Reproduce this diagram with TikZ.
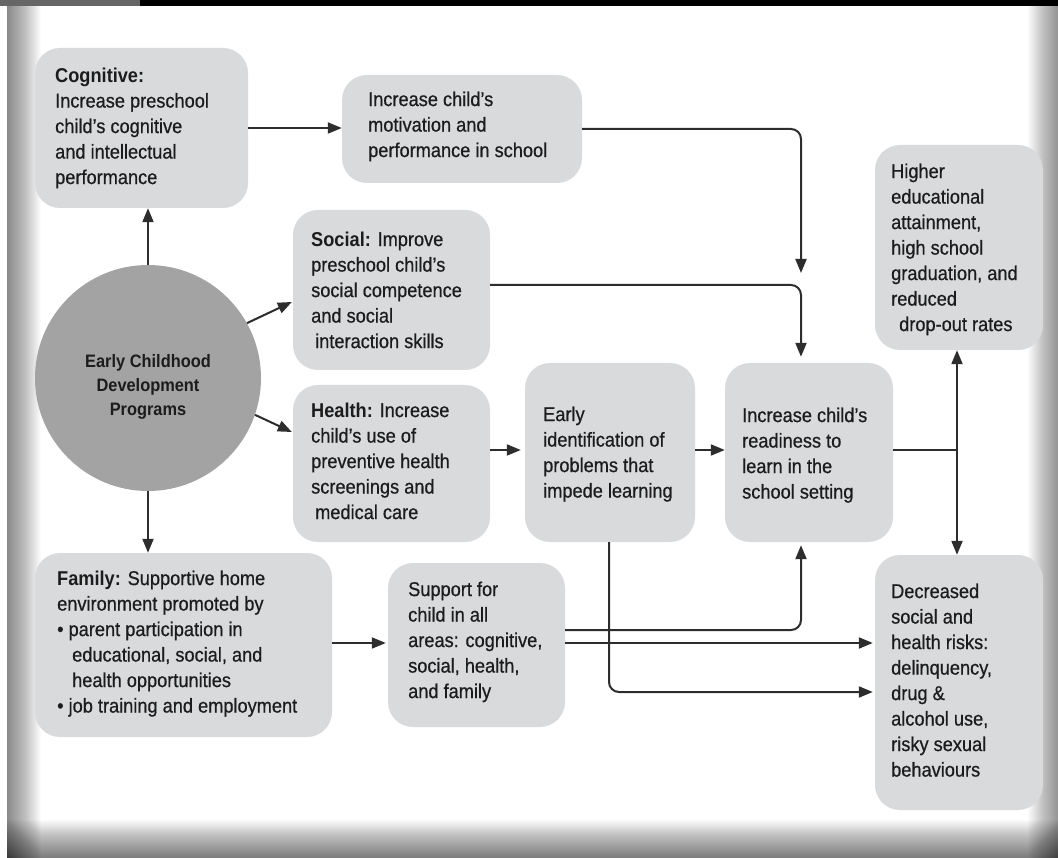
\documentclass[tikz,border=0pt]{standalone}
\usepackage{fontspec}
\setmainfont{Liberation Sans}[FakeStretch=0.91, UprightFeatures={FakeBold=0.6}]
\usetikzlibrary{arrows.meta,calc}
\definecolor{boxc}{RGB}{217,218,220}
\definecolor{circc}{RGB}{163,163,163}
\definecolor{txtc}{RGB}{28,28,28}
\definecolor{arrc}{RGB}{45,45,45}
\begin{document}
\begin{tikzpicture}[x=1pt,y=-1pt,
  box/.style={fill=boxc, rounded corners=25pt, inner sep=0pt, draw=none},
  txt/.style={anchor=north west, inner sep=0pt, align=left, font=\fontsize{20}{25.5}\selectfont, text=txtc},
  arr/.style={draw=arrc, line width=2pt, -{Triangle[length=14pt,width=11pt]}},
  darr/.style={draw=arrc, line width=2pt, {Triangle[length=14pt,width=11pt]}-{Triangle[length=14pt,width=11pt]}},
  plain/.style={draw=arrc, line width=2pt},
  shadow/.style={fill=black, opacity=0.016},
]
\useasboundingbox (0,0) rectangle (1058,858);
% frame
\fill[white] (0,0) rectangle (1058,858);
\foreach \i in {0,...,33}
  \fill[shadow] (7,6) rectangle (8+\i,858);
\foreach \i in {0,...,37}
  \fill[shadow] (7,858) rectangle (1058,857-\i);
\foreach \i in {0,...,29}
  \fill[shadow] (1058,6) rectangle (1057-\i,858);
\fill[black] (0,0) rectangle (1058,6);
\fill[black!60] (0,0) rectangle (140,6);

% boxes
\node[box, minimum width=213pt, minimum height=160pt] (cog) at (141.5,128) {};
\node[box, minimum width=240pt, minimum height=108pt] (mot) at (462,129) {};
\node[box, minimum width=197pt, minimum height=160pt] (soc) at (391.5,290) {};
\node[box, minimum width=197pt, minimum height=157pt] (hea) at (391.5,463.5) {};
\node[box, minimum width=170pt, minimum height=179pt] (ear) at (610,452.5) {};
\node[box, minimum width=168pt, minimum height=179pt] (rea) at (809,452.5) {};
\node[box, minimum width=168pt, minimum height=205pt] (hig) at (959,247.5) {};
\node[box, minimum width=168pt, minimum height=255pt] (dec) at (959,682.5) {};
\node[box, minimum width=297pt, minimum height=184pt] (fam) at (183.5,645) {};
\node[box, minimum width=177pt, minimum height=164pt] (sup) at (476.5,645) {};
\node[circle, fill=circc, minimum size=226pt, inner sep=0pt] (cir) at (148,378) {};

% texts
\node[txt] (cogT) at (55,64) {\strut\textbf{Cognitive:}\\Increase preschool\\child's cognitive\\and intellectual\\performance};
\node[txt] (motT) at (368,88) {\strut Increase child's\\motivation and\\performance in school};
\node[txt] (socT) at (311,228) {\strut\textbf{Social:} Improve\\preschool child's\\social competence\\and social\\\hspace{4pt}interaction skills};
\node[txt] (heaT) at (311,399) {\strut\textbf{Health:} Increase\\child's use of\\preventive health\\screenings and\\\hspace{4pt}medical care};
\node[txt] (earT) at (543,403) {\strut Early\\identification of\\problems that\\impede learning};
\node[txt] (reaT) at (742,404) {\strut Increase child's\\readiness to\\learn in the\\school setting};
\node[txt] (higT) at (891,160) {\strut Higher\\educational\\attainment,\\high school\\graduation, and\\reduced\\\hspace{8pt}drop-out rates};
\node[txt] (decT) at (891,580) {\strut Decreased\\social and\\health risks:\\delinquency,\\drug \&\\alcohol use,\\risky sexual\\behaviours};
\node[txt] (famT) at (57,567) {\strut\textbf{Family:} Supportive home\\environment promoted by\\• parent participation in\\\hspace{15pt}educational, social, and\\\hspace{15pt}health opportunities\\• job training and employment};
\node[txt] (supT) at (408,578) {\strut Support for\\child in all\\areas: cognitive,\\social, health,\\and family};
\node[align=center, inner sep=0pt, text=txtc, font=\bfseries\fontsize{18}{24}\selectfont] (cirT) at (148,387) {Early Childhood\\Development\\Programs};

% helper coordinates
\coordinate (L) at (0,450);
\coordinate (J) at (957,450);
\coordinate (m1) at (801,273);
\coordinate (F) at (0,643);

% connectors
\draw[arr] (cir.north) -- (cir.north |- cog.south);
\draw[arr] (cog.east) -- (cog.east -| mot.west);
\draw[arr] (cir.29) -- ([yshift=-12pt,xshift=-1pt]soc.west);
\draw[arr] (cir.-19) -- ([yshift=31.5pt,xshift=-1pt]hea.west);
\draw[arr] (cir.south) -- (cir.south |- fam.north);
\draw[arr, rounded corners=10pt] (mot.east) -| (m1);
\draw[arr, rounded corners=10pt] (soc.east |- 0,285) -| ([xshift=-8pt,yshift=6pt]rea.north);
\draw[arr] (hea.east |- L) -- ([xshift=-4pt]ear.west |- L);
\draw[arr] (ear.east |- L) -- (rea.west |- L);
\draw[plain] (rea.east |- L) -- (J);
\draw[darr] (hig.south -| J) -- (dec.north -| J);
\draw[arr] (fam.east |- F) -- ([xshift=-2pt]sup.west |- F);
\draw[arr, rounded corners=10pt] (sup.east |- 0,630) -| ([xshift=-8pt,yshift=-3pt]rea.south);
\draw[arr] (sup.east |- F) -- ([xshift=-2pt]dec.west |- F);
\draw[arr, rounded corners=10pt] ([xshift=-1pt]ear.south) |- ([xshift=-2pt]dec.west |- 0,692);
\end{tikzpicture}
\end{document}
